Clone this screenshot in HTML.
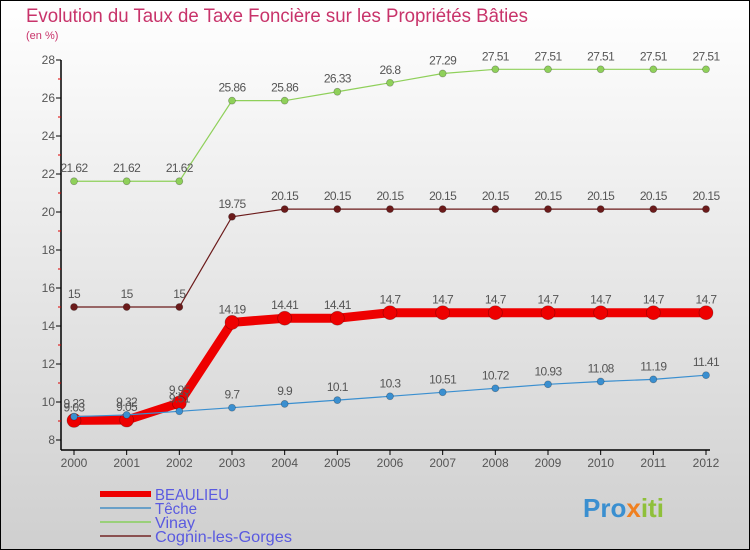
<!DOCTYPE html>
<html><head><meta charset="utf-8"><style>
body{margin:0}
#c{width:750px;height:550px;position:relative;box-sizing:border-box;border:1px solid #000;background:linear-gradient(#ffffff,#cfcfcf);font-family:"Liberation Sans",sans-serif;overflow:hidden}
</style></head><body>
<div id="c">
<svg id="s" width="750" height="550" style="position:absolute;left:-1px;top:-1px">
<text x="26" y="22" font-size="19" fill="#c8336a" textLength="502" lengthAdjust="spacingAndGlyphs">Evolution du Taux de Taxe Foncière sur les Propriétés Bâties</text>
<text x="26" y="39" font-size="11" fill="#c8336a">(en %)</text>
</svg>
</div>
<script>
const years=[2000,2001,2002,2003,2004,2005,2006,2007,2008,2009,2010,2011,2012];
const beaulieu=[9.03,9.05,9.95,14.19,14.41,14.41,14.7,14.7,14.7,14.7,14.7,14.7,14.7];
const teche=[9.23,9.32,9.51,9.7,9.9,10.1,10.3,10.51,10.72,10.93,11.08,11.19,11.41];
const vinay=[21.62,21.62,21.62,25.86,25.86,26.33,26.8,27.29,27.51,27.51,27.51,27.51,27.51];
const cognin=[15,15,15,19.75,20.15,20.15,20.15,20.15,20.15,20.15,20.15,20.15,20.15];
const yTicks=[8,10,12,14,16,18,20,22,24,26,28];
const labelsB=["9.03","9.05","9.95","14.19","14.41","14.41","14.7","14.7","14.7","14.7","14.7","14.7","14.7"];
const NS="http://www.w3.org/2000/svg",s=document.getElementById('s');
const X=i=>74+i*(706-74)/12, Y=v=>440-(v-8)*19;
function el(t,a,p){const e=document.createElementNS(NS,t);for(const k in a)e.setAttribute(k,a[k]);(p||s).appendChild(e);return e;}
let ax=el('line',{x1:61,y1:60,x2:61,y2:450,stroke:'#000','stroke-width':1.5});

let bx=el('line',{x1:61,y1:450,x2:710,y2:450,stroke:'#000','stroke-width':1.5});

for(let v=9;v<28;v+=2){el('line',{x1:58,x2:61,y1:Y(v),y2:Y(v),stroke:'#d00'});}
yTicks.forEach(v=>{el('line',{x1:56,x2:61,y1:Y(v),y2:Y(v),stroke:'#000'});
 const t=el('text',{x:55,y:Y(v)+4,'font-size':12,fill:'#555','text-anchor':'end'});t.textContent=v;
 });
years.forEach((y,i)=>{el('line',{x1:X(i),x2:X(i),y1:450,y2:455,stroke:'#000'});
 const t=el('text',{x:X(i),y:467,'font-size':12,fill:'#555','text-anchor':'middle'});t.textContent=y;
 });
function series(data,labels,color,w,r,name){
 const g=el('g',{});
 el('polyline',{points:data.map((v,i)=>X(i)+','+Y(v)).join(' '),fill:'none',stroke:color,'stroke-width':w},g);
 data.forEach((v,i)=>{const c=el('circle',{cx:X(i),cy:Y(v),r:r,fill:color,stroke:'rgba(0,0,0,0.3)','stroke-width':0.7},g);
  
  const t=el('text',{x:X(i),y:Y(v)-9,'font-size':12,fill:'#555','text-anchor':'middle','letter-spacing':'-0.6'},g);
  t.textContent=labels?labels[i]:String(v);});
}
series(vinay,null,'#8fd05a',1.2,3.5,'vinay');
series(cognin,null,'#6b1a1a',1.2,3.5,'cognin');
series(beaulieu,labelsB,'#ee0000',9,7,'beaulieu');
series(teche,null,'#3a8fd0',1.2,3.5,'teche');
const leg=[['BEAULIEU','#ee0000',6,74],['Têche','#6aa0c8',2,42],['Vinay','#9ad07a',2,40],['Cognin-les-Gorges','#8a5050',2,137]];
leg.forEach((l,i)=>{const yy=494+i*14;const g=el('g',{});
 
 el('line',{x1:100,x2:151,y1:yy,y2:yy,stroke:l[1],'stroke-width':l[2]},g);
 const t=el('text',{x:155,y:yy+6,'font-size':16,fill:'#5a5ae0',textLength:l[3],lengthAdjust:'spacingAndGlyphs'},g);t.textContent=l[0];});
const p=el('text',{x:583,y:517,'font-size':26,'font-weight':'bold',fill:'#3a8fd0'});
p.innerHTML='<tspan fill="#3a8fd0">Pro</tspan><tspan fill="#f08020">x</tspan><tspan fill="#8fc03a">iti</tspan>';

</script>
</body></html>
